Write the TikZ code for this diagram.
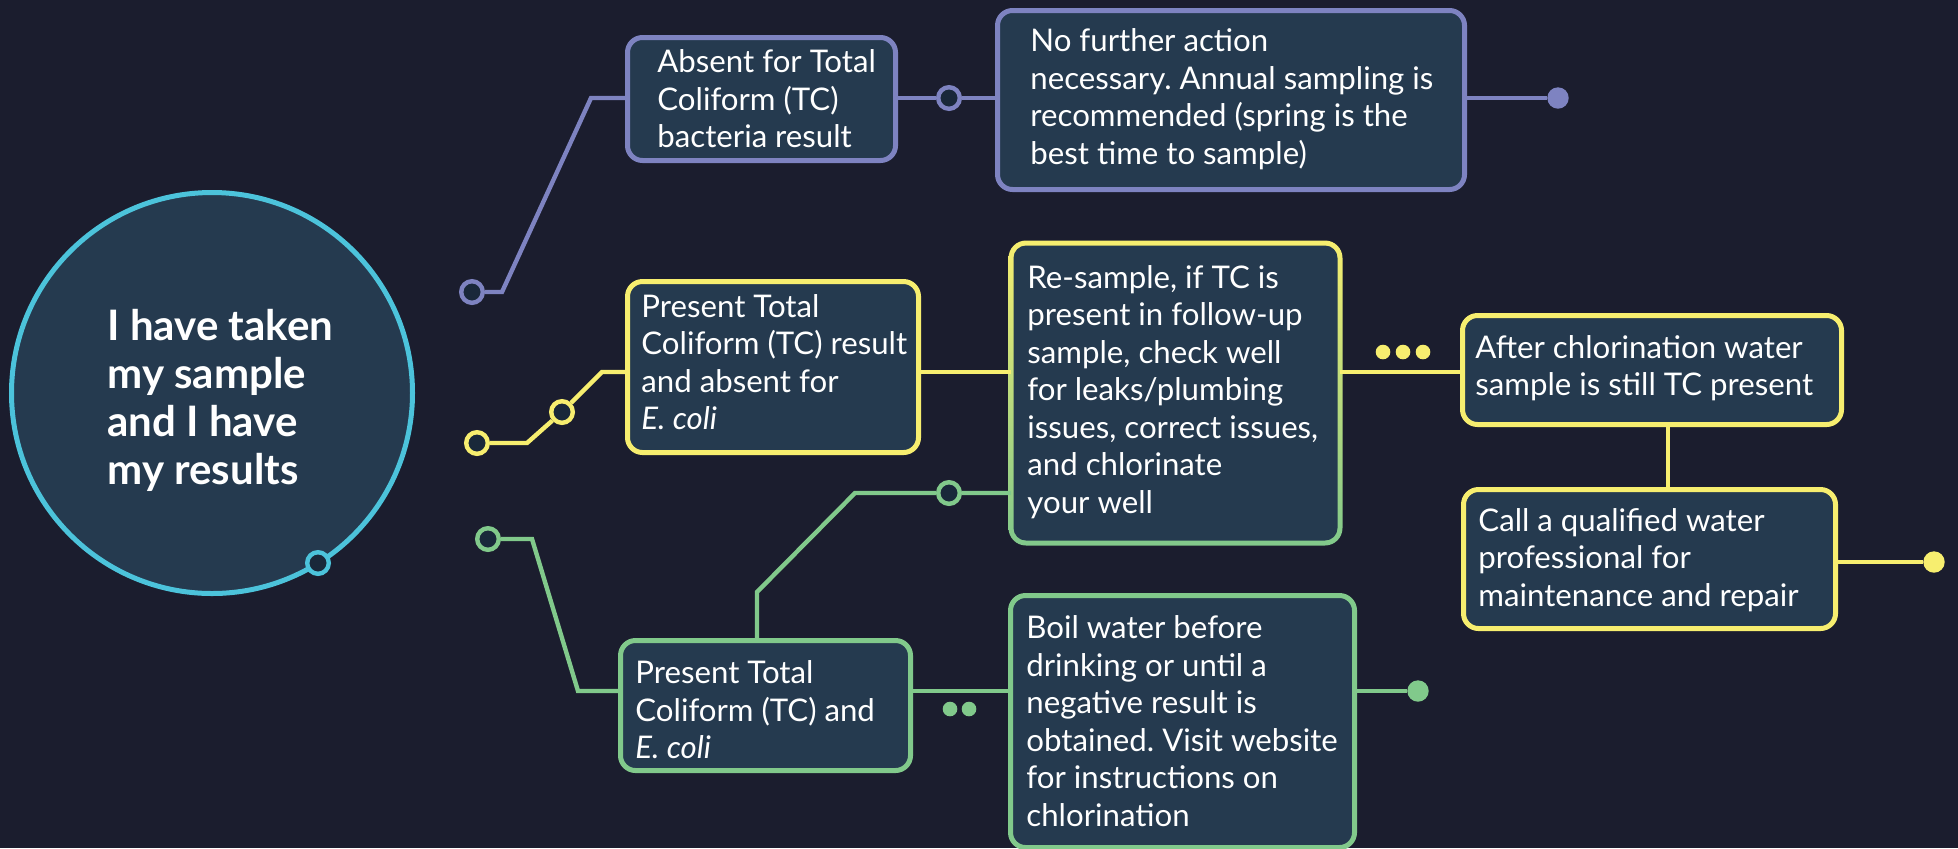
\documentclass[tikz,border=0pt]{standalone}
\usepackage{fontspec}
\setmainfont{Lato}
\frenchspacing
\definecolor{bgcol}{HTML}{1B1D2E}
\definecolor{boxcol}{HTML}{253A4F}
\definecolor{holecol}{HTML}{19283A}
\definecolor{purp}{HTML}{7E83C1}
\definecolor{yel}{HTML}{F7EE6F}
\definecolor{grn}{HTML}{81C98B}
\definecolor{cyn}{HTML}{4CC3DB}
\tikzset{
  box/.style={rectangle, rounded corners=7.5pt, fill=boxcol, line width=2.5pt, inner sep=0pt},
  txt/.style={anchor=west, align=left, text=white, inner sep=0pt, font=\fontsize{15.6}{18.75}\selectfont},
  wire/.style={line width=2.2pt},
  hole/.style={circle, fill=holecol, line width=2.2pt, minimum size=10.8pt, inner sep=0pt},
  blob/.style={circle, inner sep=0pt, minimum size=10.7pt},
  pip/.style={circle, inner sep=0pt, minimum size=7.3pt}
}
\begin{document}
\begin{tikzpicture}[x=0.5pt,y=-0.5pt]
  \fill[bgcol] (0,0) rectangle (1958,848);
  \useasboundingbox (0,0) rectangle (1958,848);

  % start
  \node[circle, draw=cyn, fill=boxcol, line width=2.5pt, minimum size=200.5pt] (start) at (212,393) {};
  \node[anchor=west, align=left, text=white, inner sep=0pt, font=\bfseries\fontsize{21}{24}\selectfont] (start-t) at (107,400)
    {I have taken\\my sample\\and I have\\my results};
  \node[hole, draw=cyn] (c0) at (318,563) {};

  % boxes
  \node[box, draw=purp, minimum width=134pt, minimum height=61.5pt] (absent) at (761.5,99) {};
  \node[txt] (absent-t) at (657,99) {Absent for Total\\Coliform (TC)\\bacteria result};
  \node[box, draw=purp, minimum width=233.5pt, minimum height=89.5pt] (nofurther) at (1231,100) {};
  \node[txt] (nofurther-t) at (1030,99) {No further action\\necessary. Annual sampling is\\recommended (spring is the\\best time to sample)};

  \node[box, draw=yel, minimum width=145.5pt, minimum height=85.5pt] (presentyel) at (773,367) {};
  \node[txt] (presentyel-t) at (641,362) {Present Total\\Coliform (TC) result\\and absent for\\\textit{E. coli}};

  \node[box, draw=none, fill=none, minimum width=162pt, minimum height=147.5pt] (resample) at (1175.5,393) {};
  \shade[top color=yel, middle color=yel!55!grn, bottom color=grn, rounded corners=8.75pt]
    ([shift={(-2.5,-2.5)}]resample.north west) rectangle ([shift={(2.5,2.5)}]resample.south east);
  \fill[boxcol, rounded corners=6.25pt]
    ([shift={(2.5,2.5)}]resample.north west) rectangle ([shift={(-2.5,-2.5)}]resample.south east);
  \node[txt] (resample-t) at (1027,392) {Re-sample, if TC is\\present in follow-up\\sample, check well\\for leaks/plumbing\\issues, correct issues,\\and chlorinate\\your well};

  \node[box, draw=yel, minimum width=189.5pt, minimum height=54.5pt] (afterchl) at (1652,370) {};
  \node[txt] (afterchl-t) at (1475,368) {After chlorination water\\sample is still TC present};
  \node[box, draw=yel, minimum width=186pt, minimum height=69.5pt] (callpro) at (1649.5,559) {};
  \node[txt] (callpro-t) at (1478,560) {Call a qualified water\\professional for\\maintenance and repair};

  \node[box, draw=grn, minimum width=145pt, minimum height=65pt] (presentgrn) at (765.5,705.5) {};
  \node[txt] (presentgrn-t) at (635,710) {Present Total\\Coliform (TC) and\\\textit{E. coli}};
  \node[box, draw=grn, minimum width=172pt, minimum height=126pt] (boil) at (1182.5,721.5) {};
  \node[txt] (boil-t) at (1026,721) {Boil water before\\drinking or until a\\negative result is\\obtained. Visit website\\for instructions on\\chlorination};

  % purple branch
  \node[hole, draw=purp] (p0) at (472,292) {};
  \coordinate (p1) at (502,292);
  \coordinate (p2) at (591,98);
  \draw[wire, purp] (p0) -- (p1) -- (p2) -- (p2 -| absent.west);
  \node[hole, draw=purp] (p3) at (949,98) {};
  \draw[wire, purp] (absent.east |- p3) -- (p3) -- (p3 -| nofurther.west);
  \node[blob, fill=purp] (p4) at (1558,98) {};
  \draw[wire, purp] (nofurther.east |- p4) -- (p4);

  % yellow branch
  \node[hole, draw=yel] (y0) at (477,443) {};
  \coordinate (y1) at (527,443);
  \node[hole, draw=yel] (y2) at (562,412) {};
  \coordinate (y3) at (602,372);
  \draw[wire, yel] (y0) -- (y1) -- (y2) -- (y3) -- (y3 -| presentyel.west);
  \draw[wire, yel] (presentyel.east |- y3) -- (y3 -| resample.west);
  \draw[wire, yel] (resample.east |- y3) -- (y3 -| afterchl.west);
  \node[pip, fill=yel] (ypip1) at (1383,352) {};
  \node[pip, fill=yel] (ypip2) at (1403,352) {};
  \node[pip, fill=yel] (ypip3) at (1423,352) {};
  \coordinate (yv) at (1668,0);
  \draw[wire, yel] (afterchl.south -| yv) -- (callpro.north -| yv);
  \node[blob, fill=yel] (y4) at (1934,562) {};
  \draw[wire, yel] (callpro.east |- y4) -- (y4);

  % green branch
  \node[hole, draw=grn] (g0) at (488,539) {};
  \coordinate (g1) at (532,539);
  \coordinate (g2) at (578,691);
  \draw[wire, grn] (g0) -- (g1) -- (g2) -- (g2 -| presentgrn.west);
  \coordinate (g3) at (757,592);
  \coordinate (g4) at (855,493);
  \node[hole, draw=grn] (g5) at (949,493) {};
  \draw[wire, grn] (presentgrn.north -| g3) -- (g3) -- (g4) -- (g5) -- (g5 -| resample.west);
  \draw[wire, grn] (presentgrn.east |- g2) -- (g2 -| boil.west);
  \node[pip, fill=grn] (gpip1) at (950,709) {};
  \node[pip, fill=grn] (gpip2) at (969,709) {};
  \node[blob, fill=grn] (g6) at (1418,691) {};
  \draw[wire, grn] (boil.east |- g6) -- (g6);
\end{tikzpicture}
\end{document}
